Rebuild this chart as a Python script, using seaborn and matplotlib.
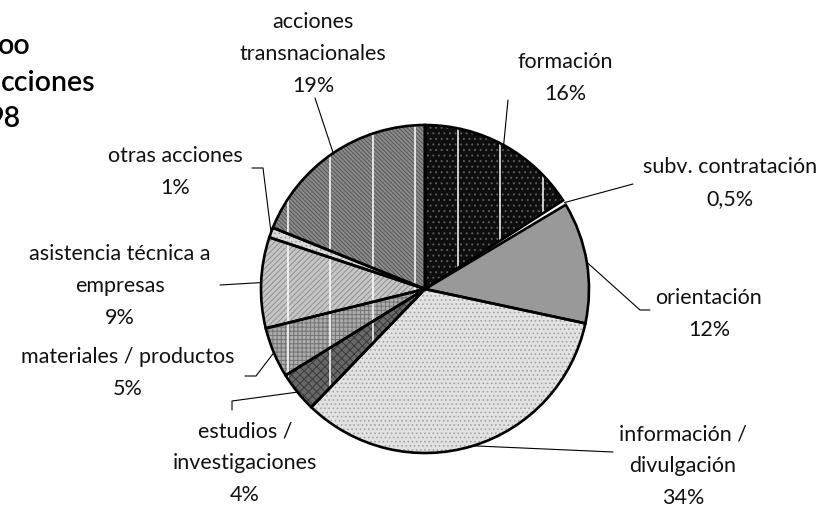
import numpy as np
import matplotlib.pyplot as plt
import seaborn as sns

# reparto de acciones (%), en el orden del reloj desde arriba
labels = ['formación', 'subv. contratación', 'orientación', 'información /\ndivulgación',
          'estudios /\ninvestigaciones', 'materiales / productos',
          'asistencia técnica a\nempresas', 'otras acciones', 'acciones\ntransnacionales']
shares = [16, 0.5, 12, 34, 4, 5, 9, 1, 19]
pct_text = ['16%', '0,5%', '12%', '34%', '4%', '5%', '9%', '1%', '19%']
title_bits = ['oo', 'cciones', '98']

fills = ['#0e0e0e', '#ffffff', '#999999', '#e2e2e2', '#686868', '#acacac', '#c6c6c6', '#dadada', '#8c8c8c']
hatches = ['...', '', '', '....', 'xxxx', '++++', '//////', '....', '\\\\\\\\\\\\\\\\']
hatch_cols = ['#5c5c5c', '#ffffff', '#999999', '#a4a4a4', '#3a3a3a', '#747474', '#8e8e8e', '#a0a0a0', '#555555']
gridded = [0, 4, 5, 6, 8]

sns.set_theme(style='white')
plt.rcParams['font.family'] = ['Lato', 'DejaVu Sans']
plt.rcParams['hatch.linewidth'] = 0.7

W, H = 829, 507
CX, CY, R = 425, 289, 164


def px(x, y):
    # pixel position -> data units (pie centre 0,0, radius 1)
    return (x - CX) / R, (CY - y) / R


fig = plt.figure(figsize=(W / 100, H / 100), dpi=100)
ax = fig.add_axes([0, 0, 1, 1])

wedges, _ = ax.pie(shares, startangle=90, counterclock=False, colors=fills,
                   wedgeprops=dict(linewidth=0))
for w, h, hc in zip(wedges, hatches, hatch_cols):
    w.set_hatch(h)
    w.set_edgecolor(hc)

# white grid lines showing through the patterned slices
for i in gridded:
    for gx in np.arange(288, 560, 42.5):
        x0, _ = px(gx, 0)
        ln, = ax.plot([x0, x0], [-1.1, 1.1], color='white', lw=1.1, zorder=3)
        ln.set_clip_path(wedges[i])

outline, _ = ax.pie(shares, startangle=90, counterclock=False, colors=['none'] * len(shares),
                    wedgeprops=dict(linewidth=1.9, edgecolor='black'))
for w in outline:
    w.set_zorder(4)
outline[1].set_linewidth(0)

# label placement (pixels): text centre and leader path
text_pos = [(565, 78), (730, 183), (709, 314), (683, 466), (245, 463),
            (128, 373), (120, 286), (175, 172), (313, 54)]
leader = [[(508, 100)], [(633, 184)], [(640, 310), (650, 310)], [(613, 452)],
          [(232, 401), (232, 410)], [(256, 376), (245, 376)], [(220, 285)],
          [(263, 168), (252, 168)], [(315, 98)]]

for w, lab, pct, tp, path in zip(wedges, labels, pct_text, text_pos, leader):
    mid = np.deg2rad((w.theta1 + w.theta2) / 2)
    xs = [np.cos(mid)] + [px(*p)[0] for p in path]
    ys = [np.sin(mid)] + [px(*p)[1] for p in path]
    ax.plot(xs, ys, color='black', lw=0.8, zorder=5)
    tx, ty = px(*tp)
    ax.text(tx, ty, lab + '\n' + pct, ha='center', va='center', fontsize=15.5,
            linespacing=1.72, color='#111111')

for bit, (bx, by) in zip(title_bits, [(31, 46), (96, 83), (21, 119)]):
    tx, ty = px(bx, by)
    ax.text(tx, ty, bit, ha='right', va='center', fontsize=20.5, fontweight='semibold',
            color='black')

ax.set_xlim(px(0, 0)[0], px(W, 0)[0])
ax.set_ylim(px(0, H)[1], px(0, 0)[1])
ax.axis('off')

fig.savefig('out.png', dpi=100)
